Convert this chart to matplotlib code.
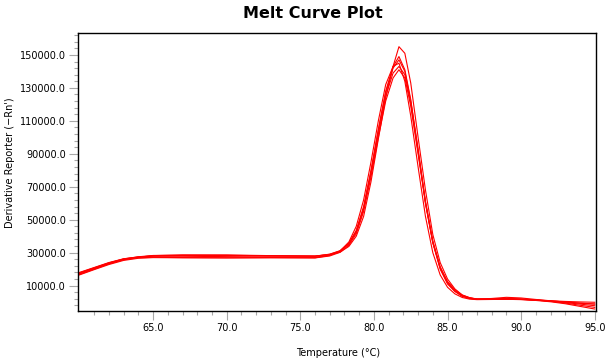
import matplotlib
matplotlib.use('Agg')
import matplotlib.pyplot as plt
from matplotlib.ticker import FixedLocator, FormatStrFormatter, MultipleLocator

# Temperature points (°C)
temps = [60, 61, 62, 63, 64, 65, 67, 70, 73, 76, 77, 77.7, 78.3, 78.8, 79.3, 79.8,
         80.3, 80.8, 81.3, 81.7, 82.1, 82.5, 83.0, 83.5, 84.0, 84.5, 85.0, 85.5,
         86.0, 86.5, 87, 88, 89, 90, 91, 92, 93, 94, 95]

# derivative reporter for each well
well_1 = [16800, 20000, 23200, 25800, 27200, 28200, 28600, 28600, 28200, 28000, 28800, 30300,
          33800, 40000, 52000, 73000, 99000, 124000, 143000, 155000, 151000, 133000, 100000,
          68000, 41000, 24000, 14000, 8000, 4300, 2600, 1800, 2200, 2900, 2500, 1600, 800,
          0, -600, -1150]
well_2 = [17500, 20600, 23700, 26200, 27500, 28300, 28500, 28400, 28100, 27900, 29100, 31200,
          35800, 43500, 58000, 80000, 105000, 128000, 143000, 149000, 141000, 123000, 92000,
          61000, 36500, 20500, 11500, 6500, 3600, 2300, 1700, 1900, 2300, 1900, 1300, 700,
          100, -700, -1200]
well_3 = [18000, 21000, 24000, 26300, 27400, 28000, 28300, 28300, 28000, 27800, 29000, 31000,
          35500, 43000, 57000, 79000, 104000, 127000, 142000, 147000, 140000, 122000, 93000,
          60000, 36000, 20000, 11000, 6500, 3500, 2200, 1800, 1800, 2000, 1700, 1200, 800,
          400, 100, -100]
well_4 = [17200, 20300, 23300, 25700, 26900, 27200, 27000, 26900, 27000, 26900, 28300, 31000,
          36500, 46000, 62000, 85000, 110000, 132000, 143000, 145000, 134000, 113000, 82000,
          52000, 30000, 16500, 9000, 5000, 2800, 1800, 1500, 1600, 1700, 1600, 1200, 500,
          -600, -1900, -3200]
well_5 = [16500, 19700, 22800, 25300, 26600, 27000, 26900, 26800, 26900, 26800, 28000, 30200,
          34500, 41500, 55000, 76000, 100000, 122000, 136000, 141000, 136000, 119000, 90000,
          60000, 36000, 21000, 12500, 7500, 4300, 2700, 1900, 1700, 1700, 1500, 1000, 200,
          -1000, -2600, -4200]
well_6 = [17800, 20800, 23800, 26100, 27300, 27800, 27800, 27600, 27400, 27200, 28600, 30800,
          35200, 42500, 56500, 78000, 102000, 125000, 139000, 143000, 138000, 121000, 91000,
          61000, 37000, 21500, 12000, 7000, 3900, 2500, 1800, 1800, 2100, 1800, 1200, 500,
          -300, -1200, -2200]
wells = [well_1, well_2, well_3, well_4, well_5, well_6]

x_major = [65, 70, 75, 80, 85, 90, 95]
x_minor = [t for t in range(61, 95) if t % 5 != 0]

fig = plt.figure(figsize=(6.1, 3.63), dpi=100)
ax = fig.add_axes([78 / 610, 1 - 311 / 363, (595.5 - 78) / 610, (311 - 33) / 363])

for w in wells:
    ax.plot(temps, w, color='#ff0000', linewidth=0.8)

ax.set_xlim(59.9, 95.05)
ax.set_ylim(-5400, 163300)

ax.xaxis.set_major_locator(FixedLocator(x_major))
ax.xaxis.set_minor_locator(FixedLocator(x_minor))
ax.yaxis.set_major_locator(MultipleLocator(20000, offset=10000))
ax.yaxis.set_minor_locator(MultipleLocator(4000, offset=2000))
ax.xaxis.set_major_formatter(FormatStrFormatter('%.1f'))
ax.yaxis.set_major_formatter(FormatStrFormatter('%.1f'))

ax.tick_params(which='major', direction='out', length=6.5, width=0.8, color='#a8a8a8',
               labelsize=7, labelcolor='black', pad=2)
ax.tick_params(which='minor', direction='out', length=3, width=0.8, color='#a8a8a8')
for s in ax.spines.values():
    s.set_color('black')
    s.set_linewidth(1.0)

fig.text(313 / 610, 1 - 13 / 363, 'Melt Curve Plot', ha='center', va='center',
         fontsize=11.5, fontweight='bold')
fig.text(338 / 610, 1 - 353 / 363, 'Temperature (°C)', ha='center', va='center', fontsize=7)
fig.text(10 / 610, 1 - 163 / 363, "Derivative Reporter (\u2212Rn')", ha='center', va='center',
         rotation=90, fontsize=7)

fig.savefig('out.png', dpi=100)
